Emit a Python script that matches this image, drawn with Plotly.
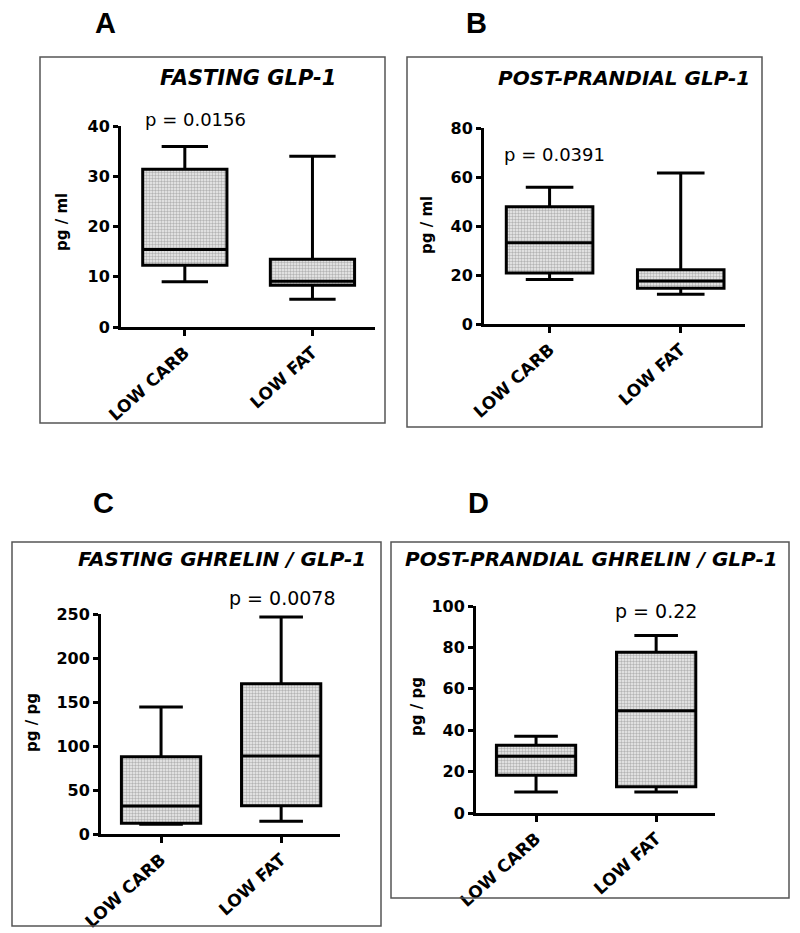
import plotly.graph_objects as go

categories = ["LOW CARB", "LOW FAT"]

# Panel A: Fasting GLP-1 (pg/ml)
a_min = [9.0, 5.5]
a_q1 = [12.3, 8.3]
a_med = [15.4, 9.1]
a_q3 = [31.4, 13.5]
a_max = [35.9, 34.0]

# Panel B: Post-prandial GLP-1 (pg/ml)
b_min = [18.2, 12.1]
b_q1 = [20.8, 14.6]
b_med = [33.2, 17.6]
b_q3 = [47.9, 22.1]
b_max = [55.8, 61.6]

# Panel C: Fasting ghrelin / GLP-1 (pg/pg)
c_min = [11.0, 14.4]
c_q1 = [12.3, 32.2]
c_med = [31.8, 88.6]
c_q3 = [87.9, 170.8]
c_max = [144.3, 246.6]

# Panel D: Post-prandial ghrelin / GLP-1 (pg/pg)
d_min = [10.2, 10.2]
d_q1 = [18.2, 12.7]
d_med = [27.4, 49.4]
d_q3 = [32.7, 77.7]
d_max = [37.1, 85.8]

titles = ["FASTING GLP-1", "POST-PRANDIAL GLP-1",
          "FASTING GHRELIN / GLP-1", "POST-PRANDIAL GHRELIN / GLP-1"]
p_texts = ["p = 0.0156", "p = 0.0391", "p = 0.0078", "p = 0.22"]
y_titles = ["pg / ml", "pg / ml", "pg / pg", "pg / pg"]
letters = ["A", "B", "C", "D"]
y_ranges = [[0, 40], [0, 80], [0, 250], [0, 100]]
y_dticks = [10, 20, 50, 20]

# the page body has an 8px margin, so the figure is drawn 8px in
OFF = 8
W, H = 800 - OFF, 933 - OFF
def px(x):
    return (x - OFF) / W
def py(y):
    return 1 - (y - OFF) / H

# layout geometry in window pixels: (x_left, x_right, y_top, y_bottom)
axes_px = [(121, 375, 126, 327), (484, 745, 128, 324),
           (101, 340, 614, 834), (476, 715, 606, 813)]
frames_px = [(40, 57, 385, 423), (407, 57, 762, 427),
             (12, 542, 381, 926), (391, 542, 789, 898)]
title_pos = [(338, 78), (752, 78), (368, 559), (780, 559)]
title_sizes = [21, 20, 20, 20]
p_pos = [(143, 120), (502, 155), (227, 598), (613, 611)]
p_sizes = [18, 18, 19, 19]
ytitle_pos = [(62, 222), (427, 225), (32, 723), (417, 707)]
letter_pos = [(105, 23), (477, 23), (103, 503), (478, 503)]

data = [
    (a_min, a_q1, a_med, a_q3, a_max),
    (b_min, b_q1, b_med, b_q3, b_max),
    (c_min, c_q1, c_med, c_q3, c_max),
    (d_min, d_q1, d_med, d_q3, d_max),
]

fig = go.Figure()
FONT = "DejaVu Sans"
BOXW = 0.66

for i, (mn, q1, med, q3, mx) in enumerate(data):
    sfx = "" if i == 0 else str(i + 1)
    xa, ya = "x" + sfx, "y" + sfx
    fig.add_trace(go.Bar(
        x=categories, y=[b - a for a, b in zip(q1, q3)], base=q1,
        width=BOXW, xaxis=xa, yaxis=ya, showlegend=False,
        marker=dict(color="white", line=dict(width=0),
                    pattern=dict(shape=".", fgcolor="#7a7a7a", bgcolor="#eeeeee",
                                 size=3, solidity=0.5)),
        hoverinfo="skip"))
    fig.add_trace(go.Box(
        x=categories, q1=q1, median=med, q3=q3, lowerfence=mn, upperfence=mx,
        width=BOXW, whiskerwidth=0.55, boxpoints=False,
        fillcolor="rgba(0,0,0,0)", line=dict(color="black", width=3),
        xaxis=xa, yaxis=ya, showlegend=False))

    xl, xr, yt, yb = axes_px[i]
    common = dict(showline=True, linecolor="black", linewidth=3, ticks="outside",
                  tickwidth=3, tickcolor="black", showgrid=False, zeroline=False,
                  mirror=False, automargin=False)
    fig.update_layout(**{
        "xaxis" + sfx: dict(domain=[px(xl), px(xr)], anchor=ya, range=[-0.5, 1.49],
                            tickangle=-42, ticklen=6,
                            tickfont=dict(family=FONT, size=17, color="black", weight="bold"),
                            **common),
        "yaxis" + sfx: dict(domain=[py(yb), py(yt)], anchor=xa, range=y_ranges[i],
                            dtick=y_dticks[i], ticklen=5,
                            tickfont=dict(family=FONT, size=16, color="black", weight="bold"),
                            **common),
    })

    fx0, fy0, fx1, fy1 = frames_px[i]
    fig.add_shape(type="rect", xref="paper", yref="paper",
                  x0=px(fx0), x1=px(fx1), y0=py(fy1), y1=py(fy0),
                  line=dict(color="#555555", width=1.5), fillcolor="rgba(0,0,0,0)")

    tx, ty = title_pos[i]
    fig.add_annotation(x=px(tx), y=py(ty), xref="paper", yref="paper", text=titles[i],
                       showarrow=False, xanchor="right", yanchor="middle",
                       font=dict(family=FONT, size=title_sizes[i], color="black",
                                 weight="bold", style="italic"))
    ptx, pty = p_pos[i]
    fig.add_annotation(x=px(ptx), y=py(pty), xref="paper", yref="paper", text=p_texts[i],
                       showarrow=False, xanchor="left", yanchor="middle",
                       font=dict(family=FONT, size=p_sizes[i], color="black"))
    ytx, yty = ytitle_pos[i]
    fig.add_annotation(x=px(ytx), y=py(yty), xref="paper", yref="paper", text=y_titles[i],
                       showarrow=False, xanchor="center", yanchor="middle", textangle=-90,
                       font=dict(family=FONT, size=15, color="black", weight="bold"))
    lx, ly = letter_pos[i]
    fig.add_annotation(x=px(lx), y=py(ly), xref="paper", yref="paper", text=letters[i],
                       showarrow=False, xanchor="center", yanchor="middle",
                       font=dict(family="Liberation Sans", size=29, color="black",
                                 weight="bold"))

fig.update_layout(width=W, height=H,
                  margin=dict(l=0, r=0, t=0, b=0, pad=0, autoexpand=False),
                  paper_bgcolor="white", plot_bgcolor="white", boxmode="overlay",
                  barmode="overlay")

fig.write_html("out.html")
